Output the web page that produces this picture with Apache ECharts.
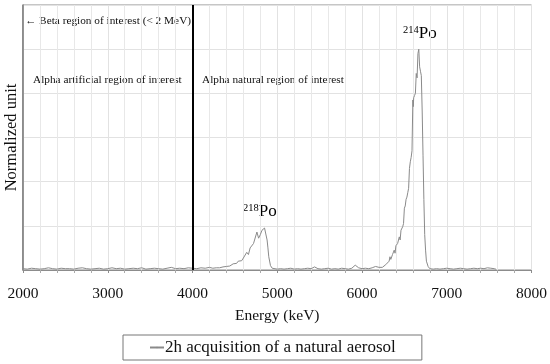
<!DOCTYPE html>
<html><head><meta charset="utf-8">
<script src="https://cdn.jsdelivr.net/npm/echarts@6/dist/echarts.min.js"></script>
<style>html,body{margin:0;padding:0;background:#fff}#c{width:550px;height:364px}</style>
</head><body><div id="c"></div>
<script>
const energies = [
2000,2050,2100,2150,2200,2250,2300,2350,2400,2450,2500,2550,2600,2650,2700,2750,2800,2850,2900,2950,
3000,3050,3100,3150,3200,3250,3300,3350,3400,3450,3500,3550,3600,3650,3700,3750,3800,3850,3900,3950,
4000,4050,4100,4150,4200,
4220,4240,4260,4280,4300,4320,4340,4360,4380,4400,4420,4440,4460,4480,4500,4520,4540,4560,4580,4600,
4620,4640,4660,4680,4700,4720,4740,4760,4780,4800,4820,4840,4850,4860,4880,4890,4900,4920,4940,
4960,5000,5040,5080,5120,5160,5200,5240,5280,5320,5360,5400,5440,5480,5520,5560,5600,5640,5680,5720,
5760,5800,5840,5880,5920,5960,6000,6040,6080,6120,6160,6200,
6220,6240,6260,6280,6300,6320,6330,6340,6360,6380,6390,6400,6420,6440,6450,6460,6480,6490,6500,6510,
6520,6530,6540,6550,6560,6570,6580,6590,6600,6605,6610,6620,6630,6640,6650,6660,6670,6680,6690,6700,
6710,6720,6730,6740,6750,6760,6780,6800,
6840,6880,6920,6960,7000,7040,7080,7120,7160,7200,7240,7280,7320,7360,7400,7440,7480,7500,7520,7560,7580
];
const normalized = [
0.03,0.02,0.04,0.03,0.02,0.03,0.05,0.03,0.02,0.04,0.03,0.03,0.02,0.04,0.05,0.03,0.02,0.03,0.04,0.02,
0.03,0.05,0.03,0.04,0.02,0.03,0.04,0.03,0.05,0.02,0.03,0.04,0.03,0.02,0.04,0.06,0.03,0.04,0.03,0.05,
0.04,0.03,0.05,0.04,0.06,
0.05,0.04,0.06,0.05,0.07,0.05,0.08,0.07,0.10,0.08,0.11,0.09,0.12,0.14,0.17,0.15,0.20,0.22,0.21,0.27,
0.25,0.40,0.35,0.50,0.46,0.60,0.62,0.86,0.72,0.80,0.90,0.88,0.95,0.92,0.68,0.50,0.30,0.10,0.04,
0.03,0.02,0.03,0.02,0.03,0.04,0.02,0.03,0.02,0.03,0.04,0.03,0.07,0.03,0.02,0.03,0.04,0.02,0.03,0.02,
0.04,0.03,0.02,0.04,0.11,0.05,0.03,0.04,0.03,0.05,0.08,0.06,
0.07,0.06,0.09,0.12,0.10,0.20,0.30,0.24,0.35,0.45,0.38,0.55,0.60,0.75,0.68,0.90,0.98,1.05,1.40,1.45,
1.60,1.65,1.75,1.85,2.30,2.45,2.55,2.70,3.85,3.70,3.90,3.95,4.00,4.45,4.35,4.90,5.00,4.60,4.50,4.40,
3.60,2.60,1.60,0.80,0.45,0.20,0.08,0.03,
0.02,0.03,0.02,0.03,0.04,0.03,0.02,0.03,0.04,0.03,0.02,0.03,0.04,0.03,0.04,0.03,0.05,0.07,0.04,0.03,0.02
];
const xTicks = [2000,3000,4000,5000,6000,7000,8000];
const seriesName = '2h acquisition of a natural aerosol';
const annotations = ['← Beta region of interest (< 2 MeV)','Alpha artificial region of interest','Alpha natural region of interest'];

const FONT = '"Liberation Serif", "DejaVu Serif", serif';
const chart = echarts.init(document.getElementById('c'));
const data = energies.map((e,i)=>[e, normalized[i]]);
const poRich = {
  s:{fontSize:10.5,fontFamily:FONT,color:'#111',verticalAlign:'top',padding:[0,0,7,0]},
  b:{fontSize:17,fontFamily:FONT,color:'#111'}
};
chart.setOption({
  animation:false,
  textStyle:{fontFamily:FONT},
  grid:{left:23,right:18.5,top:5,bottom:94,show:true,borderColor:'#8c8c8c',borderWidth:1,outerBoundsMode:'none',containLabel:false},
  legend:{
    bottom:4, left:123,
    data:[seriesName], itemWidth:14, itemHeight:2, itemGap:2,
    borderColor:'#777', borderWidth:1, padding:[4,26,4,26],
    textStyle:{fontFamily:FONT,fontSize:17,color:'#111',padding:[0,0,0,-4]}
  },
  xAxis:{
    type:'value', min:xTicks[0], max:xTicks[xTicks.length-1], interval:1000,
    name:'Energy (keV)', nameLocation:'middle', nameGap:38,
    nameTextStyle:{fontFamily:FONT,fontSize:15.5,color:'#111'},
    axisLine:{show:true,lineStyle:{color:'#8c8c8c'}},
    axisTick:{show:true,length:3,lineStyle:{color:'#8c8c8c'}},
    minorTick:{show:true,splitNumber:5,length:3,lineStyle:{color:'#aaa'}},
    axisLabel:{fontFamily:FONT,fontSize:15.5,color:'#111',margin:16,formatter:v=>String(v)},
    splitLine:{show:true,lineStyle:{color:'#e2e2e2'}},
    minorSplitLine:{show:true,lineStyle:{color:'#e8e8e8'}}
  },
  yAxis:{
    type:'value', min:0, max:6, interval:1,
    name:'Normalized unit', nameLocation:'middle', nameGap:3,
    nameTextStyle:{fontFamily:FONT,fontSize:16.5,color:'#111'},
    axisLine:{show:true,lineStyle:{color:'#7a7a7a',width:1.5}},
    axisTick:{show:false}, axisLabel:{show:false},
    splitLine:{show:true,lineStyle:{color:'#e2e2e2'}}
  },
  series:[{
    name:seriesName, type:'line', data:data, symbol:'none',
    lineStyle:{color:'#8a8a8a',width:1}, itemStyle:{color:'#8a8a8a'},
    markLine:{silent:true,symbol:'none',label:{show:false},
      lineStyle:{color:'#000',width:2,type:'solid'}, data:[{xAxis:4000}]}
  }],
  graphic:[
    {type:'text',left:25,top:16,style:{text:annotations[0],font:'11.3px '+FONT,fill:'#111'}},
    {type:'text',left:33,top:75,style:{text:annotations[1],font:'11.3px '+FONT,fill:'#111'}},
    {type:'text',left:202,top:75,style:{text:annotations[2],font:'11.3px '+FONT,fill:'#111'}},
    {type:'text',left:243,top:203,style:{text:'{s|218}{b|Po}',rich:poRich}},
    {type:'text',left:403,top:25,style:{text:'{s|214}{b|Po}',rich:poRich}}
  ]
});
</script></body></html>
